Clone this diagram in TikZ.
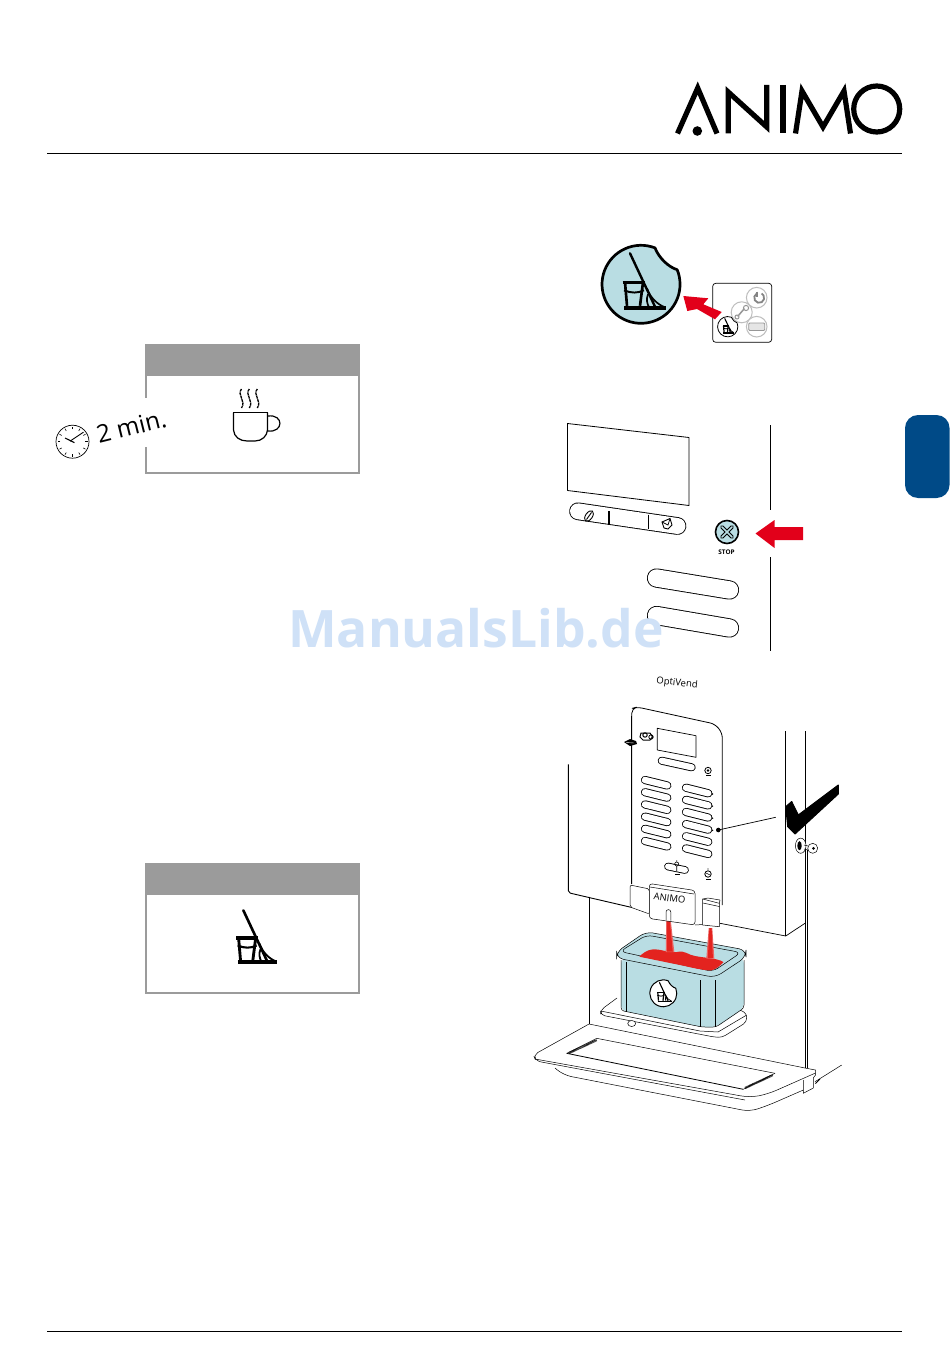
\documentclass[tikz,border=0pt]{standalone}
\usepackage{fontspec}
\setmainfont{Open Sans}
\definecolor{aqua}{HTML}{B9DDE3}
\definecolor{animored}{HTML}{E2001A}
\definecolor{liquid}{HTML}{E3231F}
\definecolor{tabblue}{HTML}{004A87}
\definecolor{hdr}{HTML}{9B9B9B}
\definecolor{mark}{HTML}{CFE1F7}
\definecolor{softgrey}{HTML}{BDBDBD}
\tikzset{
  ln/.style={draw=black,line width=0.7pt,line join=round},
  thin ln/.style={draw=black,line width=0.5pt,line join=round},
  logo/.style={draw=black,line width=5.2pt,line join=miter,line cap=butt},
  redfill/.style={fill=animored,draw=none},
}
\newcommand{\pillx}[3]{%
  \draw[line width={(#3+1.2)*1pt},line cap=round,black] #1 -- #2;
  \draw[line width={(#3-0.6)*1pt},line cap=round,white] #1 -- #2;}
\newcommand{\mopglyph}[4]{% cx cy scale linewidth
  \begin{scope}[shift={(#1,#2)},scale=#3]
    \draw[line width=#4*1pt,line cap=round] (-11,-31) -- (14,22.4);
    \draw[line width=#4*1.3pt] (-18.3,-2) -- (4,-2);
    \draw[line width=#4*1.1pt] (-16,-2) -- (-14,21.5) (2,-2) -- (-1,21.5);
    \draw[line width=#4*0.8pt] (-17,6) .. controls (-10,9) and (-3,9) .. (3,6);
    \draw[line width=#4*1.5pt] (-16.7,23.4) -- (24.7,23.4);
    \draw[line width=#4*0.7pt] (6,4) .. controls (9,13) and (16,20) .. (24,23)
      (7,10) .. controls (5,15) and (6,19) .. (8,23);
  \end{scope}}
\newcommand{\bitedisc}[5]{% cx cy scale linewidth fill
  \begin{scope}[shift={(#1,#2)},scale=#3]
    \draw[fill=#5,line width=#4*1pt,line join=round] (14,-36.4) arc[start angle=69,end angle=382,radius=39pt]
      .. controls (28,-17) and (18,-26) .. (14,-36.4) -- cycle;
  \end{scope}}
\begin{document}
\begin{tikzpicture}[x=1pt,y=-1pt]
\useasboundingbox (0,0) rectangle (950,1364);
\fill[white] (0,0) rectangle (950,1364);

% header and footer rules
\draw[line width=0.9pt] (47,153.5) -- (902,153.5);
\draw[line width=0.9pt] (47,1331) -- (902,1331);

% logo
\draw[logo] (677.5,133.5) -- (697.7,88) -- (717,133.5);
\fill (697.3,131) circle[radius=4.8pt];
\draw[logo] (728.2,133.5) -- (728.2,92) -- (766.8,127) -- (766.8,85);
\draw[logo] (783,85) -- (783,133.5);
\draw[logo] (795.5,133.5) -- (802,91) -- (823,127) -- (844,91) -- (850.5,133.5);
\draw[line width=5.2pt] (876.7,109) circle[radius=23pt];

% side tab
\fill[tabblue,rounded corners=13pt] (905,415) rectangle (949.5,498);

% screen 1
\fill[hdr] (145,344) rectangle (360,376);
\draw[hdr,line width=2pt] (146,376) -- (146,473) -- (359,473) -- (359,376);
\fill[white] (144,398) rectangle (148,447);
% cup
\draw[line width=1.2pt] (233,412.7) -- (268,412.7);
\draw[line width=1.2pt] (233.5,412.7) -- (233.5,430) .. controls (234,437) and (240,441) .. (247,441)
  -- (255,441) .. controls (262,441) and (267,436) .. (267.5,430) -- (267.5,412.7);
\draw[line width=1.2pt] (268,416) .. controls (284,414) and (284,433) .. (267.5,431);
\foreach \sx in {241.5,249.3,257.3}{
  \draw[line width=1.3pt,dash pattern=on 3pt off 0.6pt] (\sx,389) .. controls (\sx-5,395) and (\sx+5,401) .. (\sx,408);
}
% clock
\begin{scope}[shift={(72.5,441.7)}]
  \draw[line width=0.7pt,fill=white] (0,0) circle[radius=16.5pt];
  \foreach \a in {0,30,...,330}{\draw[line width=0.6pt] (\a:12.5pt) -- (\a:15pt);}
  \draw[line width=0.9pt] (-2.5,-0.5) -- (11,-9.5);
  \draw[line width=1.1pt] (2,1) -- (-7.5,-3.7);
\end{scope}
\node[rotate=14,font=\fontsize{24.5}{28}\selectfont,inner sep=0pt] (twomin) at (131.5,426.5) {2 min.};

% screen 2
\fill[hdr] (145,863) rectangle (360,895);
\draw[hdr,line width=2pt] (146,895) -- (146,993) -- (359,993) -- (359,895);
\begin{scope}
  \clip (230,905) rectangle (285,970);
  \mopglyph{253.8}{939.8}{0.95}{2.6}
\end{scope}

% top right icon
\bitedisc{641}{284.3}{1}{2.7}{aqua}
\mopglyph{641}{284.3}{1}{2.4}
\draw[line width=0.7pt,rounded corners=3pt] (712.7,283.3) rectangle (771.7,342.3);
\draw[softgrey,line width=1pt,fill=white] (741.7,312.3) circle[radius=10.5pt];
\draw[softgrey!80!black,line width=1.5pt,line cap=round] (738,316) -- (744,309);
\draw[softgrey!80!black,line width=1pt] (746,308) circle[radius=2.6pt];
\draw[softgrey!80!black,line width=1pt] (737,317) circle[radius=2pt];
\draw[softgrey,line width=1pt,fill=white] (756.7,297.7) circle[radius=10.3pt];
\draw[softgrey!70!black,line width=1.8pt] (756.7,293.5) arc[start angle=120,end angle=420,radius=5pt];
\draw[softgrey!70!black,line width=1.8pt] (756.7,291.5) -- (756.7,297);
\draw[softgrey,line width=1pt,fill=white] (756.7,326.7) circle[radius=10.3pt];
\draw[softgrey!80!black,line width=0.9pt,rounded corners=1pt,fill=softgrey!40] (748.7,323) rectangle (764.7,330.5);
\fill[redfill] (683.3,296) -- (708.3,298.3) -- (703.3,304.3) -- (721.7,312) -- (715,319.3) -- (697,309) -- (687.3,311) -- cycle;
\bitedisc{727.7}{326.7}{0.26}{0.8}{white}
\mopglyph{727.7}{326.7}{0.26}{1.1}

% middle panel
\draw[ln,line width=0.8pt] (567.5,423.5) -- (689,437.5) -- (689,505.5) -- (567.5,490.5) -- cycle;
\pillx{(578,511.3)}{(677.5,526)}{16.5}
\draw[line width=1.3pt] (609,511) -- (609,525);
\draw[line width=0.6pt] (648,514.5) -- (648,529);
\draw[line width=0.9pt,rotate around={55:(589,516)}] (589,516) ellipse[x radius=6pt,y radius=3.4pt];
\draw[line width=0.9pt] (586.5,519.5) -- (591.5,512.5);
\draw[line width=0.9pt,fill=white] (662,522) -- (670,518.5) -- (672,525) -- (668,529) -- (664,528) -- cycle;
\draw[line width=0.7pt] (662,522) -- (668,525) -- (670,518.5);
\pillx{(656.5,578)}{(729.5,590)}{18}
\pillx{(656.5,615.5)}{(729.5,628)}{18}
\draw[fill=aqua,line width=1.6pt] (727,532) circle[radius=11.5pt];
\draw[line width=1pt,line cap=round,double=aqua,double distance=1.7pt] (722,527) -- (732,537) (732,527) -- (722,537);
\node[font=\fontsize{6.4}{7}\bfseries\selectfont,inner sep=0pt] (stop) at (726.5,552.5) {STOP};
\draw[line width=0.9pt] (770.7,425) -- (770.7,510) (770.7,557) -- (770.7,651);
\fill[redfill] (755.5,533.5) -- (774.5,520) -- (774.5,527) -- (803,527) -- (803,540) -- (774.5,540) -- (774.5,548) -- cycle;

% lower machine: body
\draw[ln,line width=0.9pt,rounded corners=2pt] (568.3,764.3) -- (568.3,892.7) -- (632,907.5);
\draw[ln] (720,923.3) -- (785.7,936) -- (805,923.3);
\draw[ln,line width=0.9pt] (785.7,731) -- (785.7,936);
\draw[ln,line width=0.9pt] (805.3,731) -- (805.3,1068);
\draw[ln,line width=0.7pt] (807.5,850) -- (807.5,1068);
\draw[thin ln] (589,896.7) -- (589,1024);

% drip tray
\draw[thin ln,rounded corners=5pt] (589,1024) -- (533.3,1055) -- (536,1061) -- (745,1100);
\draw[thin ln] (589,1024) -- (805,1068);
\draw[thin ln,rounded corners=9pt] (535,1059) -- (750,1097.5) -- (768,1094) -- (815.5,1073);
\draw[thin ln,rounded corners=8pt] (555,1068) -- (563.3,1075) -- (750,1111.5) -- (769,1105) -- (803.3,1090);
\draw[thin ln] (805,1068) -- (815.5,1070) -- (815.5,1075) -- (813.3,1078) -- (813.3,1088) -- (803.3,1093.3) -- (803.3,1080);
\draw[thin ln] (815,1081.7) -- (841.7,1065);
\draw[line width=0.9pt] (815.5,1083.5) -- (820,1079);
\draw[thin ln] (596.7,1038.3) -- (775,1073.3);
\draw[line width=0.8pt] (566.7,1053.3) -- (743.3,1089.3);
\draw[thin ln] (566.7,1053.3) -- (596.7,1038.3) (743.3,1089.3) -- (775,1073.3);
\draw[line width=2.2pt,dash pattern=on 0.5pt off 0.5pt] (569,1053) -- (597,1040) (745,1088) -- (773,1075);

% platform
\draw[thin ln,rounded corners=4pt] (617,998) -- (600.7,1010) -- (600.7,1015) -- (714,1037) -- (722,1037.5) -- (746.7,1022) -- (746.7,1013) -- (730,1006);
\draw[thin ln] (600.7,1011) -- (700,1031) -- (718,1032) -- (746.7,1015);
\draw[thin ln,fill=white] (631.7,1023.5) ellipse[x radius=4pt,y radius=3pt];

% container
\fill[aqua,rounded corners=6pt] (621,958) -- (621,1010.5) -- (702,1027) -- (716,1027) -- (744,1008) -- (744,958) -- cycle;
\draw[thin ln,rounded corners=3pt] (621,960) -- (621,1010.5) -- (702,1027) -- (716,1027) -- (744,1008) -- (744,960);
\draw[thin ln] (626,962) -- (626,1011.5) (700,980) -- (700,1026.5) (715,980) -- (715,1026.5);
\draw[thin ln,fill=aqua,rounded corners=7pt] (616.5,952) -- (646,931.7) -- (746,950) -- (746,957) -- (715,977.5) -- (616.5,958) -- cycle;
\draw[thin ln,rounded corners=6pt] (620,951.5) -- (646.5,935) -- (741,952.5) -- (713,971.5) -- cycle;
% liquid
\fill[liquid,line join=round] (639.3,956.7) .. controls (643,953) and (647,950) .. (652,949.5)
  .. controls (660,948.5) and (668,953) .. (677,952) .. controls (685,950) and (688,955) .. (695,956)
  .. controls (705,958) and (717,958) .. (723.5,962) .. controls (719,967) and (716,969) .. (711,970.5)
  .. controls (700,970) and (690,967) .. (680,965) -- cycle;
% streams
\fill[liquid!70!white] (666.2,920.7) -- (670.8,920.7) -- (674.3,952) -- (665.7,952) -- cycle;
\fill[liquid] (667.2,920.7) -- (669.8,920.7) -- (672.8,951.5) -- (667.2,951.5) -- cycle;
\fill[liquid!70!white] (708.7,928) -- (712.3,928) -- (714.3,958.5) -- (706.3,958.5) -- cycle;
\fill[liquid] (709.4,928) -- (711.6,928) -- (712.9,958) -- (707.8,958) -- cycle;
% container icon
\bitedisc{663.3}{993.3}{0.345}{1}{white}
\mopglyph{663.3}{993.3}{0.345}{1.1}

% front panel
\draw[ln,line width=0.8pt,rounded corners=5pt,fill=white] (631.7,884) -- (631.7,708.5) -- (637,707) -- (715,724) -- (722.3,733) -- (722.3,905);
\draw[line width=1.4pt] (631.7,716) -- (631.7,884);
\draw[ln] (657.3,728.3) -- (696,735.7) -- (696,757.3) -- (657.3,750) -- cycle;
\pillx{(661.7,760.7)}{(691.7,767.3)}{6.8}
\foreach \i in {0,...,5}{
  \pillx{(645,{780+12.2*\i})}{(667.3,{785.5+12.2*\i})}{7}
  \pillx{(686,{787.7+12.13*\i})}{(708.3,{793.3+12.13*\i})}{7}
}
\foreach \i in {0,...,3}{\fill (712.5,{794+12.1*\i}) circle[radius=0.8pt];}
\pillx{(668,866.5)}{(685,870)}{6.5}
\draw[line width=0.6pt] (676.7,864) circle[radius=2pt] (676.7,866) -- (676.7,871);
\fill (676.7,861) circle[radius=0.7pt];
\fill (674.5,874.5) rectangle +(5pt,1pt);
\draw[line width=0.8pt] (708,770.5) circle[radius=3.2pt];
\fill (708,770.5) circle[radius=1.4pt];
\fill (705.5,776) rectangle +(5pt,1.2pt);
\draw[line width=0.8pt] (708,874) circle[radius=3.2pt];
\fill (708,869) circle[radius=0.7pt];
\draw[line width=0.5pt] (706,873) -- (710,875);
\fill (705.5,880) rectangle +(5pt,1.2pt);
% panel key
\draw[line width=1pt,fill=white] (641,733) -- (650,733) -- (652.5,737) -- (650,740) -- (643,740) -- (640,737) -- cycle;
\draw[line width=1pt] (645,735) circle[radius=2.2pt];
\draw[line width=0.8pt] (651,737) circle[radius=2.2pt];
\fill (624,742) -- (630,739) -- (636,741) -- (637,744) -- (630,746) -- cycle;
\draw[white,line width=0.4pt] (626,742.5) -- (634,743);

% nozzle block
\draw[thin ln,fill=white,rounded corners=2pt] (630,885) -- (630,907) -- (649.5,914) -- (649.5,889) -- cycle;
\draw[thin ln,fill=white,rounded corners=3pt] (649.3,883.5) -- (695,890.5) -- (695,925) -- (649.3,918.5) -- cycle;
\draw[thin ln] (650,887) -- (694,894);
\draw[thin ln] (695,925) -- (702.7,924.5);
\draw[thin ln,fill=white] (702.7,899) -- (719.3,903.3) -- (719.3,926.7) -- (702.7,925) -- cycle;
\draw[thin ln] (703,903) -- (719.3,906.5) (702.7,899) -- (708,898) -- (720,900) -- (719.3,903.3);
\draw[thin ln,fill=white] (666,919.8) -- (666,912) arc[start angle=180,end angle=0,radius=2.4pt] -- (670.8,920.5);
\node[rotate=-7,font=\fontsize{9.5}{10}\selectfont,inner sep=0pt] (nozzlelogo) at (669.5,898.3) {ANIMO};
\node[rotate=-6,font=\fontsize{9.5}{11}\selectfont,inner sep=0pt] (optivend) at (677,683.3) {OptiVend};

% check mark and leader
\fill[line join=round,draw=black,line width=1pt] (785.7,806.7) -- (791.7,801.5) -- (798.3,815) -- (838.3,785) -- (838.3,794) -- (795,834) -- (787.7,826.7) -- cycle;
\coordinate (leadend) at (775.7,817.3);
\fill (718.3,830) circle[radius=2.3pt] coordinate (leaddot);
\draw[line width=0.7pt] (leaddot) -- (leadend);
% side key
\draw[thin ln,fill=white] (800.7,845.7) ellipse[x radius=5.3pt,y radius=7.6pt];
\fill (799.5,845.7) ellipse[x radius=2.2pt,y radius=4.5pt];
\draw[thin ln,fill=white] (812.7,848.3) circle[radius=5pt];
\fill (813.5,848.3) circle[radius=1.5pt];
\draw[thin ln] (804,845) -- (808,846) (804,849) -- (808,850);

% watermark
\node[font=\fontsize{51.6}{56}\bfseries\selectfont,text=mark,inner sep=0pt] (watermark) at (476,628) {ManualsLib.de};
\end{tikzpicture}
\end{document}
